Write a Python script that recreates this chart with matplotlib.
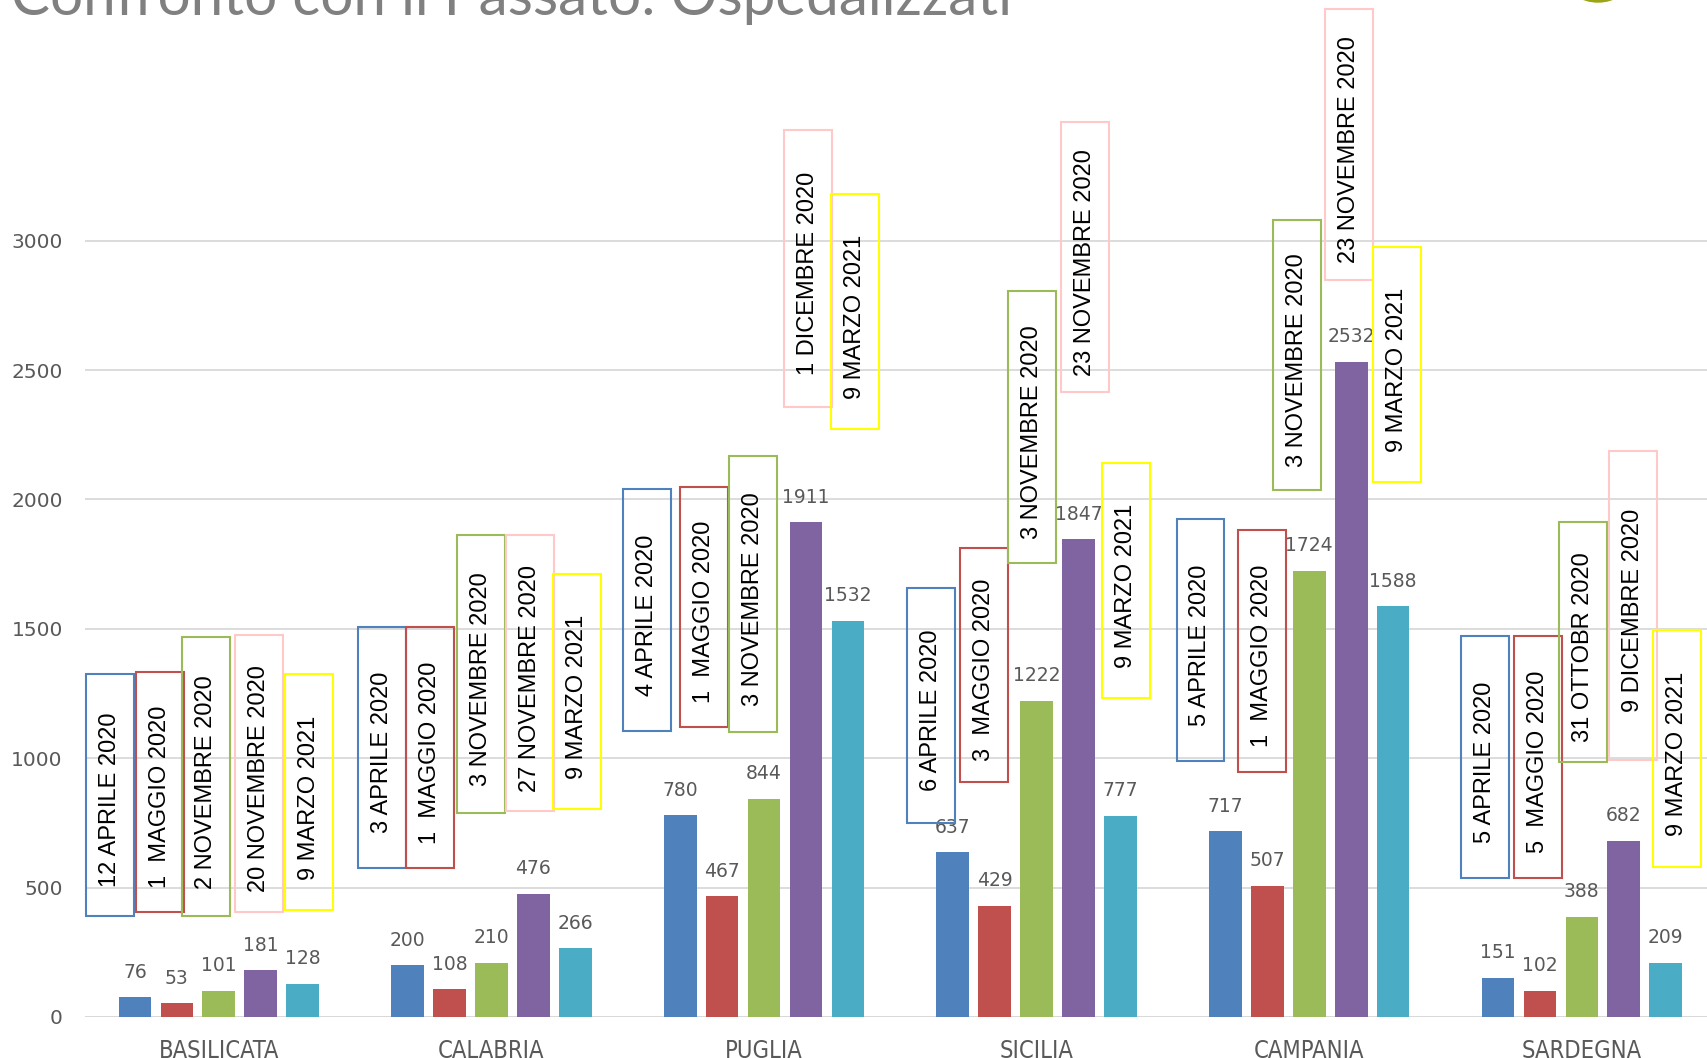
import matplotlib
matplotlib.use('Agg')
import matplotlib.pyplot as plt
from matplotlib.patches import Rectangle, Ellipse
import numpy as np

# ---- data ----
regions = ['BASILICATA', 'CALABRIA', 'PUGLIA', 'SICILIA', 'CAMPANIA', 'SARDEGNA']

aprile = [76, 200, 780, 637, 717, 151]
maggio = [53, 108, 467, 429, 507, 102]
autunno = [101, 210, 844, 1222, 1724, 388]
picco = [181, 476, 1911, 1847, 2532, 682]
marzo = [128, 266, 1532, 777, 1588, 209]

date_aprile = ['12 APRILE 2020', '3 APRILE 2020', '4 APRILE 2020',
               '6 APRILE 2020', '5 APRILE 2020', '5 APRILE 2020']
date_maggio = ['1  MAGGIO 2020', '1  MAGGIO 2020', '1  MAGGIO 2020',
               '3  MAGGIO 2020', '1  MAGGIO 2020', '5  MAGGIO 2020']
date_autunno = ['2 NOVEMBRE 2020', '3 NOVEMBRE 2020', '3 NOVEMBRE 2020',
                '3 NOVEMBRE 2020', '3 NOVEMBRE 2020', '31 OTTOBR 2020']
date_picco = ['20 NOVEMBRE 2020', '27 NOVEMBRE 2020', '1 DICEMBRE 2020',
              '23 NOVEMBRE 2020', '23 NOVEMBRE 2020', '9 DICEMBRE 2020']
date_marzo = ['9 MARZO 2021', '9 MARZO 2021', '9 MARZO 2021',
              '9 MARZO 2021', '9 MARZO 2021', '9 MARZO 2021']

# ---- layout of the date boxes: (x offset from group centre, bottom, top) ----
box_aprile = [(-0.399, 391, 1325), (-0.403, 576, 1506), (-0.431, 1107, 2041),
              (-0.387, 749, 1658), (-0.399, 989, 1923), (-0.355, 539, 1473)]
box_maggio = [(-0.216, 404, 1334), (-0.224, 576, 1506), (-0.220, 1119, 2049),
              (-0.192, 909, 1813), (-0.172, 947, 1881), (-0.160, 539, 1473)]
box_autunno = [(-0.048, 391, 1468), (-0.040, 787, 1864), (-0.040, 1102, 2167),
               (-0.016, 1755, 2806), (-0.044, 2036, 3080), (0.004, 985, 1914)]
box_picco = [(0.148, 404, 1477), (0.140, 795, 1864), (0.160, 2356, 3429),
             (0.176, 2415, 3459), (0.144, 2849, 3896), (0.188, 993, 2188)]
box_marzo = [(0.331, 412, 1325), (0.315, 804, 1712), (0.335, 2272, 3181),
             (0.327, 1233, 2142), (0.323, 2066, 2975), (0.348, 581, 1494)]

series = [aprile, maggio, autunno, picco, marzo]
dates = [date_aprile, date_maggio, date_autunno, date_picco, date_marzo]
boxes = [box_aprile, box_maggio, box_autunno, box_picco, box_marzo]
bar_colors = ['#4F81BD', '#C0504D', '#9BBB59', '#8064A2', '#4BACC6']
box_colors = ['#4F81BD', '#C0504D', '#9BBB59', '#FFC9C9', '#FFFF00']

W, H = 1707, 1058
fig = plt.figure(figsize=(W / 100, H / 100), dpi=100)
ax = fig.add_axes([85 / W, 41 / H, 1 - 85 / W, 1 - 41 / H])

x = np.arange(len(regions))
pitch = 0.1538
width = 0.12
for i, (vals, col) in enumerate(zip(series, bar_colors)):
    xs = x + (i - 2) * pitch
    ax.bar(xs, vals, width, color=col, zorder=2)
    for xi, v in zip(xs, vals):
        ax.annotate(str(v), (xi, v), xytext=(0, 18), textcoords='offset points',
                    ha='center', va='center', fontsize=13.5, color='#595959', zorder=3)

# rotated date labels in coloured boxes
bw = 0.176
for labels, bx, ec in zip(dates, boxes, box_colors):
    for xi, lab, (dx, lo, hi) in zip(x, labels, bx):
        xc = xi + dx
        ax.add_patch(Rectangle((xc - bw / 2, lo), bw, hi - lo, fill=False,
                               edgecolor=ec, lw=1.5, clip_on=False, zorder=4))
        ax.text(xc, (lo + hi) / 2 - 20, lab, rotation=90, ha='center', va='center',
                fontsize=17, family=['Liberation Sans', 'DejaVu Sans'],
                color='black', zorder=5, clip_on=False)

ax.set_xlim(-0.491, 5.459)
ax.set_ylim(0, 3930)
ax.set_yticks(np.arange(0, 3001, 500))
ax.set_xticks(x)
ax.set_xticklabels(regions, family='DejaVu Sans', fontstretch='condensed',
                   fontsize=17, color='#595959')
ax.tick_params(axis='x', length=0, pad=16)
ax.tick_params(axis='y', length=0, pad=16, labelsize=14.5, labelcolor='#595959')
ax.yaxis.grid(True, color='#D9D9D9', lw=1.3, zorder=0)
ax.set_axisbelow(True)
for s in ax.spines.values():
    s.set_visible(False)
ax.axhline(0, color='#D9D9D9', lw=2, zorder=1)

fig.text(11 / W, 1 - 15 / H, 'Confronto con il Passato: Ospedalizzati',
         fontsize=42, family=['Lato', 'DejaVu Sans'],
         color='#808080', va='baseline', ha='left')

# corner of the logo peeking in at the top
fig.patches.append(Ellipse((1598 / W, 1 + 22 / H), 64 / W, 48 / H,
                           transform=fig.transFigure, color='#9BA514'))

fig.savefig('out.png', dpi=100, facecolor='white')
